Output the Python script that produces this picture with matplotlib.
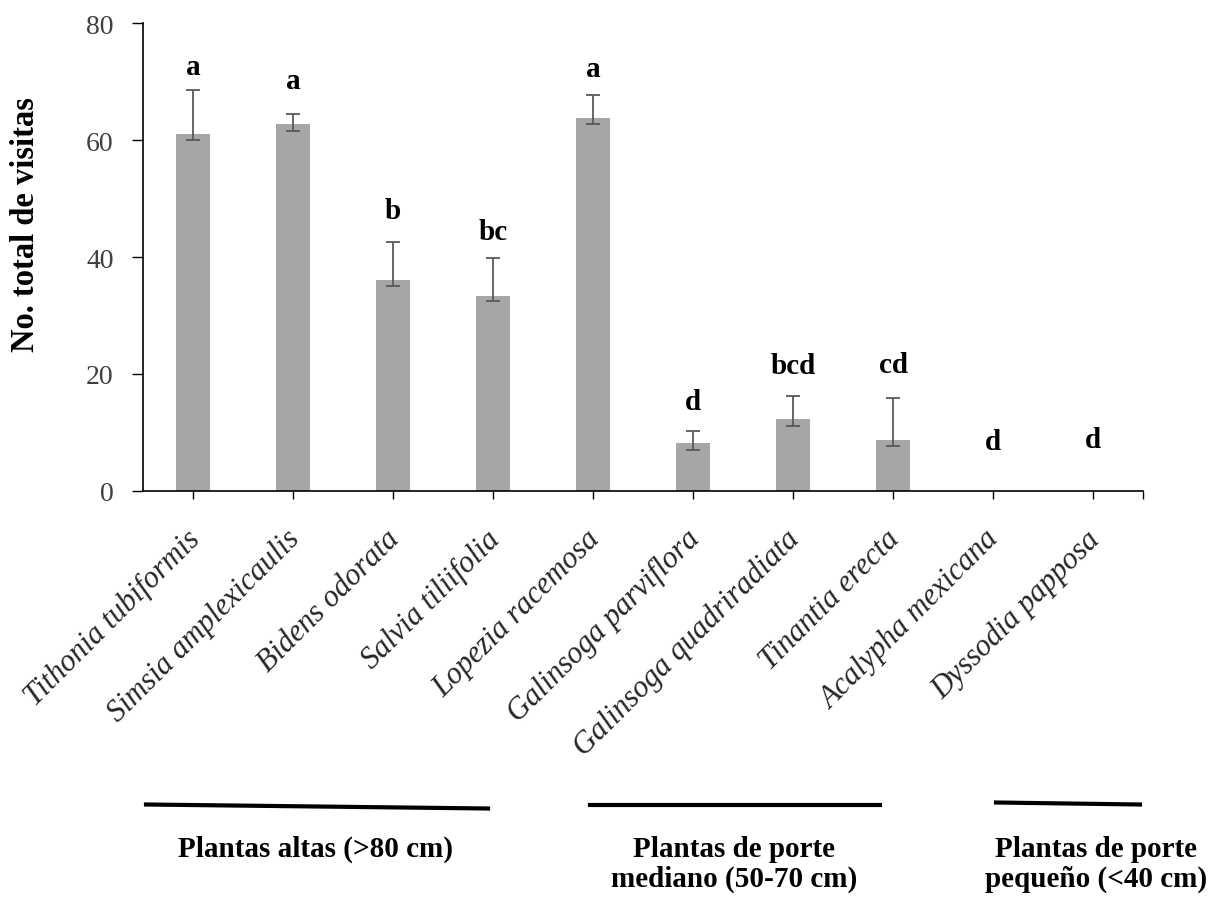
import matplotlib
matplotlib.use('Agg')
import matplotlib.pyplot as plt
import matplotlib.transforms as mtransforms
from matplotlib.lines import Line2D
import numpy as np

# visits per plant species, with asymmetric error limits
species = ['Tithonia tubiformis', 'Simsia amplexicaulis', 'Bidens odorata',
           'Salvia tiliifolia', 'Lopezia racemosa', 'Galinsoga parviflora',
           'Galinsoga quadriradiata', 'Tinantia erecta', 'Acalypha mexicana',
           'Dyssodia papposa']
visits = [61.1, 62.8, 36.1, 33.4, 63.8, 8.1, 12.2, 8.7, 0, 0]
err_upper = [68.6, 64.4, 42.5, 39.8, 67.8, 10.3, 16.2, 15.9, 0, 0]
err_lower = [60.0, 61.6, 35.0, 32.5, 62.7, 6.9, 11.0, 7.7, 0, 0]
letters = ['a', 'a', 'b', 'bc', 'a', 'd', 'bcd', 'cd', 'd', 'd']
letter_y = [71.3, 69.0, 46.6, 43.0, 70.9, 14.0, 20.1, 20.4, 7.1, 7.4]

groups = ['Plantas altas (>80 cm)',
          'Plantas de porte\nmediano (50-70 cm)',
          'Plantas de porte\npequeño (<40 cm)']

plt.rcParams['font.family'] = ['Liberation Serif', 'DejaVu Serif']

W, H = 1214, 903
fig = plt.figure(figsize=(W / 100, H / 100), dpi=100)
ax = fig.add_axes([143 / W, 1 - 491.7 / H, 1000 / W, (491.7 - 24.3) / H])

x = np.arange(len(species))
vals = np.array(visits)
hi = np.array(err_upper) - vals
lo = vals - np.array(err_lower)
has_err = vals > 0

ax.bar(x, vals, width=0.34, color='#a6a6a6', zorder=2)
ax.errorbar(x[has_err], vals[has_err], yerr=[lo[has_err], hi[has_err]],
            fmt='none', ecolor='#595959', elinewidth=1.3, capsize=4.7,
            capthick=1.3, zorder=3)

for xi, lab, yl in zip(x, letters, letter_y):
    ax.text(xi, yl, lab, ha='center', va='baseline', fontsize=21,
            fontweight='bold', color='black')

ax.set_xlim(-0.5, 9.5)
ax.set_ylim(0, 80)
ax.set_yticks([0, 20, 40, 60, 80])
ax.tick_params(axis='y', direction='out', length=8, width=1, pad=13,
               labelsize=20, labelcolor='#404040')
ax.set_xticks(list(x) + [9.5])
ax.set_xticklabels(species + [''], rotation=45, ha='right',
                   rotation_mode='anchor', fontsize=22, style='italic',
                   color='#262626')
ax.tick_params(axis='x', direction='out', length=6, width=1, pad=18)

# nudge the slanted names a little to the left
shift = mtransforms.ScaledTranslation(-8 / 100, 0, fig.dpi_scale_trans)
for lbl in ax.get_xticklabels():
    lbl.set_transform(lbl.get_transform() + shift)

for side in ['top', 'right']:
    ax.spines[side].set_visible(False)
for side in ['left', 'bottom']:
    ax.spines[side].set_linewidth(1.2)

fig.text(26 / W, 1 - 225 / H, 'No. total de visitas', rotation=90,
         ha='center', va='center', fontsize=23.5, fontweight='bold')

# group bars under the species names
bars = [((146, 805.5), (488, 809.5)),
        ((590, 805.5), (880, 805.5)),
        ((996, 803.5), (1140, 805.5))]
for (x0, y0), (x1, y1) in bars:
    fig.add_artist(Line2D([x0 / W, x1 / W], [1 - y0 / H, 1 - y1 / H],
                          transform=fig.transFigure, color='black', lw=3))

# group captions, one baseline per line
for gx, name in zip([316, 734, 1096], groups):
    for k, line in enumerate(name.split('\n')):
        fig.text(gx / W, 1 - (857 + 30 * k) / H, line, ha='center',
                 va='baseline', fontsize=21, fontweight='bold')

fig.savefig('out.png', dpi=100)
